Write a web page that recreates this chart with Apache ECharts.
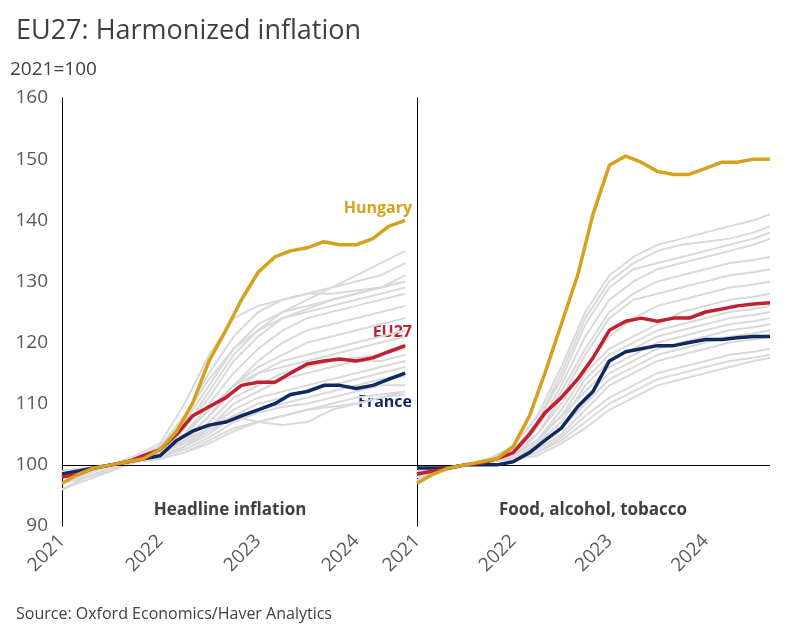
<!DOCTYPE html><html><head><meta charset="utf-8"><script src="https://cdn.jsdelivr.net/npm/echarts@6/dist/echarts.min.js"></script>
<style>body{margin:0}#c{width:798px;height:636px}</style></head><body><div id="c"></div><script>
const yTicks=[90,100,110,120,130,140,150,160];
const xTicks=[2021,2022,2023,2024];
const hlX=[2021,2021.17,2021.33,2021.5,2021.67,2021.83,2022,2022.17,2022.33,2022.5,2022.67,2022.83,2023,2023.17,2023.33,2023.5,2023.67,2023.83,2024,2024.17,2024.33,2024.5,2024.67];
const qX=[2021,2021.25,2021.5,2021.75,2022,2022.25,2022.5,2022.75,2023,2023.25,2023.5,2023.75,2024,2024.25,2024.5,2024.67];
const hunL=[97,98.5,99.5,100,100.5,101,102.5,105.5,110,117,122,127,131.5,134,135,135.5,136.5,136,136,137,139,140];
const euL=[98,98.5,99.5,100,100.5,101.5,102.5,105,108,109.5,111,113,113.5,113.5,115,116.5,117,117.3,117,117.5,118.5,119.5];
const frL=[98.5,99,99.5,100,100.5,101,101.5,104,105.5,106.5,107,108,109,110,111.5,112,113,113,112.5,113,114,115];
const hunR=[97,98.5,99.5,100,100.5,101,103,108,115,123,131,141,149,150.5,149.5,148,147.5,147.5,148.5,149.5,149.5,150,150];
const euR=[98.5,99,99.5,100,100.3,101,102,105,108.5,111,114,117.5,122,123.5,124,123.5,124,124,125,125.5,126,126.3,126.5];
const frR=[99.5,99.5,99.5,100,100,100,100.5,102,104,106,109.5,112,117,118.5,119,119.5,119.5,120,120.5,120.5,120.8,121,121];
const greyL=[
[96,98,99.5,100.5,102,106,112,118,122,125,127,129,131,133,135],
[97,98.5,100,101,103,108,115,121,125,127,128,129,130,131,133],
[98,99,100,101,103,107,113,119,123,125,126,127,128,129,131],
[97,98,99,100.5,102,106,111,117,121,124,125.5,127,128,129,130],
[96,97.5,99,101,103,108,114,119,122,124,125,126,127,128,129],
[98,99,100,101,102,105,110,115,119,122,124,125,126,127,128],
[97,99,100,101.5,103.5,110,118,124,126,127,128,128,128.5,129,130],
[98,99,100,101,102,104,108,113,117,120,122,123,124,125,126],
[97,98.5,100,101,102,105,109,113,116,118,120,121,122,123,124],
[98,99,100,100.5,101.5,104,108,112,115,117,118,119,120,121,122],
[96,98,99.5,100.5,102,105,109,113,115,116,117,118,119,120,121],
[98,99,100,101,102,104,107,111,113,115,116,117,117.5,118,119],
[97,98,99.5,100.5,101.5,103,106,110,112,114,115,116,117,117,118],
[98,99,100,101,102,103.5,106,109,111,112,113,114,115,116,117],
[99,99.5,100,100.5,101,103,105,108,110,111,112,113,114,115,116],
[98,99,100,100.5,101.5,103,105.5,108,109,110,111,112,113,114,114.5],
[99,99.5,100,101,101.5,102.5,104.5,107,108.5,109.5,110,111,112,113,113],
[98,99,100,100.5,101,102,104,106,107,108,109,110,111,111.5,112],
[97,98,99.5,101,102,104,106,108,107,106.5,107,109,110,111,112],
[99,99.5,100,100.5,101,102,103.5,105.5,107,108,109,109.5,110,111,111.5]];
const greyR=[
[98,99,100,101,103,108,116,125,131,134,136,137,138,139,140,141],
[98,99,100,100.5,102,107,115,124,130,133,135,136,136.5,137,138,139],
[99,99.5,100,101,102.5,107,114,123,129,132,133,134,135,136,137,138],
[98,99,100,100.5,102,106,113,121,127,130,132,133,134,135,136,137],
[97.5,99,100,101,102,106,112,119,125,128,130,131,132,133,133.5,134],
[98,99,100,100.5,101.5,105,111,118,124,127,128,129,130,131,131.5,132],
[99,99.5,100,101,102,105,110,116,121,124,126,127,128,129,129.5,130],
[98,99,100,100.5,101.5,104,109,115,119,121,123,125,126,127,127.5,128],
[98.5,99,100,100.5,101.5,104,108,114,118,120,122,123,124,125,125.5,126],
[99,99.5,100,100.5,101,103.5,107,113,117,119,121,122,123,124,124.5,125],
[98,99,100,101,102,104,108,112,116,118,120,121,122,123,123.5,124],
[99,99.5,100,100.5,101,103,106,111,115,117,119,120,121,122,122.5,123],
[98,99,100,100.5,101.5,103,106,110,114,116,118,119,120,121,121.5,122],
[99,99.5,100,100.5,101,102.5,105,109,113,115,117,118,119,120,120.5,121],
[98.5,99,100,100.5,101,102,104.5,108,111,113,115,116,117,118,118.5,119],
[98,99,100,100.5,101,102,104,107,110,112,114,115,116,117,117.5,118],
[99,99.5,100,100.5,101,101.5,103.5,106,109,111,113,114,115,116,117,117.5]];
const F='Open Sans, Noto Sans, sans-serif';
const zip=(xs,ys)=>ys.map((v,i)=>[xs[i],v]);
const series=[];
greyL.forEach(a=>series.push({type:'line',xAxisIndex:0,yAxisIndex:0,data:zip(qX,a),showSymbol:false,lineStyle:{color:'#d9d9d9',width:2},silent:true}));
greyR.forEach(a=>series.push({type:'line',xAxisIndex:1,yAxisIndex:1,data:zip(qX,a),showSymbol:false,lineStyle:{color:'#d9d9d9',width:2},silent:true}));
const ml={silent:true,symbol:'none',label:{show:false},lineStyle:{color:'#000',width:1,type:'solid'},data:[{yAxis:100}]};
[[frL,'#0f2a5e',0],[euL,'#c0202f',0],[hunL,'#d4a21c',0],[frR,'#0f2a5e',1],[euR,'#c0202f',1],[hunR,'#d4a21c',1]].forEach(([d,c,i],k)=>{
 series.push({type:'line',xAxisIndex:i,yAxisIndex:i,data:zip(hlX,d),showSymbol:false,lineStyle:{color:c,width:3.5},z:5,markLine:(k%3==0)?ml:undefined});
});
const xa=(i,mx)=>({type:'value',gridIndex:i,min:2021,max:mx,interval:1,axisLine:{show:false},axisTick:{show:false},splitLine:{show:false},
 axisLabel:{rotate:45,fontSize:19,color:'#595959',fontFamily:F,margin:12,formatter:v=>xTicks.includes(v)?String(v):''}});
const ya=(i)=>({type:'value',gridIndex:i,min:90,max:160,interval:10,splitLine:{show:false},axisTick:{show:false},
 axisLine:{show:true,lineStyle:{color:'#000',width:1}},axisLabel:{show:i==0,fontSize:19,color:'#595959',fontFamily:F,margin:14}});
const chart=echarts.init(document.getElementById('c'));
chart.setOption({animation:false,backgroundColor:'#fff',
 grid:[{left:62,width:355,top:98,height:428},{left:417,width:353,top:98,height:428}],
 xAxis:[xa(0,2024.62),xa(1,2024.67)],yAxis:[ya(0),ya(1)],series,
 graphic:[
  {type:'text',left:16,top:18,style:{text:'EU27: Harmonized inflation',fontSize:27,fill:'#404040',fontFamily:F}},
  {type:'text',left:10,top:60,style:{text:'2021=100',fontSize:19,fill:'#404040',fontFamily:F}},
  {type:'text',left:16,top:606,style:{text:'Source: Oxford Economics/Haver Analytics',fontSize:16,fill:'#404040',fontFamily:F}},
  {type:'text',x:230,y:510,style:{text:'Headline inflation',fontSize:17,fontWeight:'bold',fill:'#404040',fontFamily:F,align:'center',verticalAlign:'middle'}},
  {type:'text',x:593,y:510,style:{text:'Food, alcohol, tobacco',fontSize:17,fontWeight:'bold',fill:'#404040',fontFamily:F,align:'center',verticalAlign:'middle'}},
  {type:'text',x:412,y:208,style:{text:'Hungary',fontSize:16,fontWeight:'bold',fill:'#d4a21c',fontFamily:F,align:'right',verticalAlign:'middle'}},
  {type:'text',x:412,y:332,style:{text:'EU27',fontSize:16,fontWeight:'bold',fill:'#c0202f',fontFamily:F,align:'right',verticalAlign:'middle'}},
  {type:'text',x:412,y:402,style:{text:'France',fontSize:16,fontWeight:'bold',fill:'#0f2a5e',fontFamily:F,align:'right',verticalAlign:'middle'}}
 ]});
</script></body></html>
